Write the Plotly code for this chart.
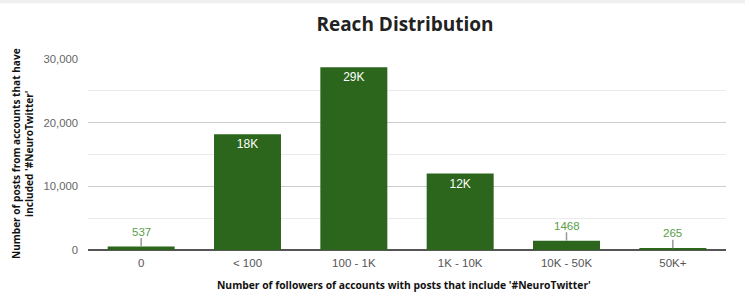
import plotly.graph_objects as go

categories = ["0", "< 100", "100 - 1K", "1K - 10K", "10K - 50K", "50K+"]
posts = [537, 18200, 28700, 12000, 1468, 265]
y_ticks = [0, 10000, 20000, 30000]
y_tick_labels = ["0", "10,000", "20,000", "30,000"]

BAR = "#2b661c"
LABEL_GREEN = "#5a9e4a"

inside_text = [f"{round(v/1000)}K" if v >= 10000 else "" for v in posts]

fig = go.Figure()
fig.add_trace(go.Bar(
    x=categories, y=posts, marker=dict(color=BAR, line=dict(width=0)),
    text=inside_text, textposition="inside", insidetextanchor="end",
    textfont=dict(family="Arial, Liberation Sans", size=12, color="white"),
    textangle=0, hoverinfo="skip",
))

annotations = []
for c, v in zip(categories, posts):
    if v < 10000:
        annotations.append(dict(
            x=c, y=v, xref="x", yref="y", text=str(v), showarrow=True,
            arrowhead=0, arrowwidth=1.5, arrowcolor="#999999", ax=0, ay=-15,
            font=dict(family="Arial, Liberation Sans", size=11.5, color=LABEL_GREEN),
            standoff=0, borderpad=0,
        ))

L, R, T, B = 88, 24, 59, 47
W, H = 750, 297
pw, ph = W - L - R, H - T - B

annotations.append(dict(
    text="<b>Number of followers of accounts with posts that include '#NeuroTwitter'</b>",
    xref="paper", yref="paper", x=(404 - L) / pw, y=(H - B - 285) / ph,
    xanchor="center", yanchor="middle", showarrow=False,
    font=dict(family="Open Sans", size=10.3, color="#111111"),
))
annotations.append(dict(
    text="<b>Number of posts from accounts that have<br>included '#NeuroTwitter'</b>",
    xref="paper", yref="paper", x=(22 - L) / pw, y=(H - B - 154) / ph,
    xanchor="center", yanchor="middle", showarrow=False, textangle=-90,
    font=dict(family="Open Sans", size=10.1, color="#111111"),
))

fig.update_layout(
    width=W, height=H,
    margin=dict(l=L, r=R, t=T, b=B),
    paper_bgcolor="white", plot_bgcolor="white",
    bargap=0.37,
    showlegend=False,
    title=dict(text="<b>Reach Distribution</b>", x=405 / W, xanchor="center",
               y=1 - 24 / H, yanchor="middle",
               font=dict(family="Open Sans", size=19, color="#222222")),
    xaxis=dict(
        tickfont=dict(family="Arial, Liberation Sans", size=11.5, color="#555555"),
        showline=False, ticks="", automargin=False, ticklabelstandoff=4,
    ),
    yaxis=dict(
        range=[0, 30000], tickvals=y_ticks, ticktext=y_tick_labels,
        tickfont=dict(family="Arial, Liberation Sans", size=11.3, color="#666666"),
        gridcolor="#cccccc", gridwidth=1,
        minor=dict(dtick=5000, showgrid=True, gridcolor="#ebebeb", gridwidth=1),
        zeroline=True, zerolinecolor="#555555", zerolinewidth=2,
        ticks="", ticklabelstandoff=9, automargin=False,
    ),
    annotations=annotations,
    shapes=[dict(type="rect", xref="paper", yref="paper", x0=-L / pw, x1=(745 - L) / pw,
                 y0=1 + (T - 3.5) / ph, y1=1 + T / ph, fillcolor="#f0f0f0", line=dict(width=0),
                 layer="below")],
)

fig.write_html("out.html", config={"displayModeBar": False},
               post_script="document.body.style.margin='0';document.body.style.overflow='hidden';")
